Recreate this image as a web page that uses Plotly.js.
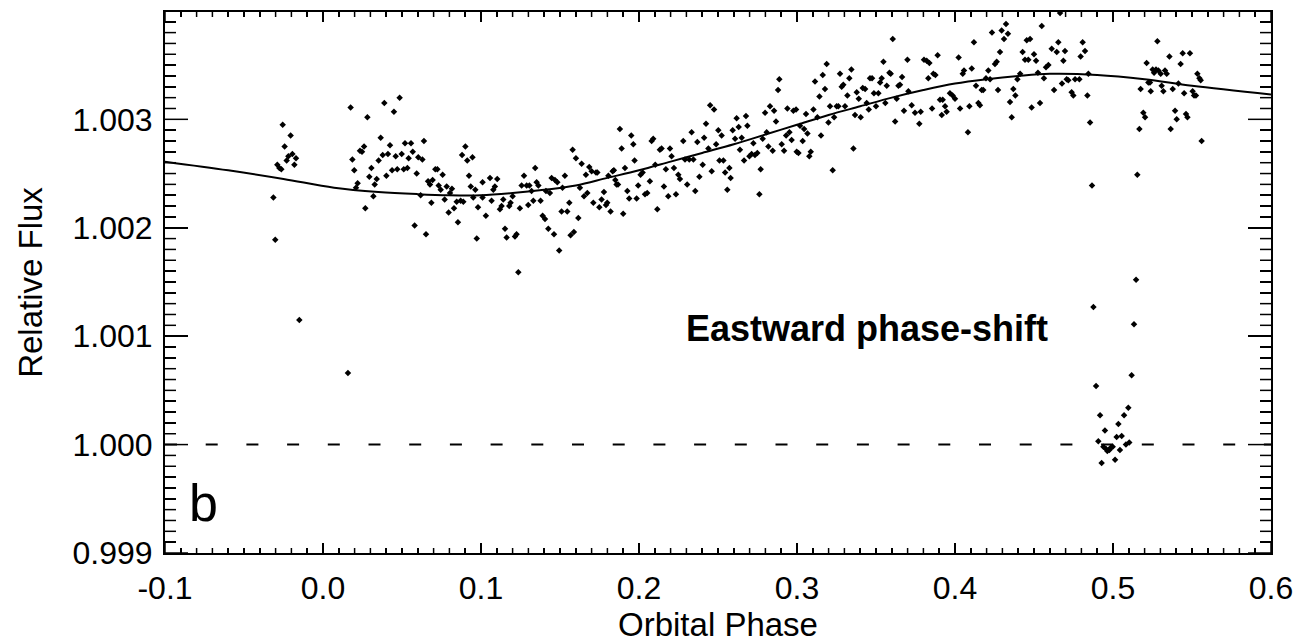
<!DOCTYPE html>
<html>
<head>
<meta charset="utf-8">
<script src="https://cdn.plot.ly/plotly-3.0.1.min.js"></script>
<style>
html,body{margin:0;padding:0;background:#fff;}
#chart{width:1300px;height:643px;}
</style>
</head>
<body>
<div id="chart"></div>
<script>
// Observed phase-folded photometry (orbital phase, relative flux)
const phase = [
-0.0255,-0.0205,-0.0243,-0.0194,-0.0171,-0.0219,-0.0230,-0.0181,-0.0289,-0.0276,-0.0264,-0.0314,-0.0302,-0.0150,0.0158,
0.0175,0.0281,0.0388,0.0449,0.0485,0.0365,0.0260,0.0234,0.0247,0.0186,0.0198,0.0219,0.0209,0.0306,0.0293,0.0340,0.0327,0.0319,0.0268,0.0352,0.0378,0.0411,0.0424,0.0460,0.0498,0.0519,0.0557,0.0568,0.0542,0.0603,0.0629,0.0639,0.0401,0.0437,0.0470,0.0511,0.0534,0.0593,0.0618,0.0580,0.0652,0.0686,0.0665,0.0677,0.0694,0.0711,0.0724,0.0757,0.0732,0.0745,0.0783,0.0816,0.0770,0.0804,0.0795,0.0829,0.0846,0.0871,0.0854,0.0901,0.0880,0.0913,0.0924,0.0935,0.0951,0.0981,0.0973,0.0964,0.0888,
0.0946,0.1010,0.1010,0.1031,0.1057,0.1067,0.1078,0.1088,0.1103,0.1120,0.1130,0.1141,0.1152,0.1162,0.1179,0.1187,0.1200,0.1215,0.1225,0.1236,0.1246,0.1257,0.1272,0.1289,0.1306,0.1320,0.1331,0.1299,0.1343,0.1352,0.1363,0.1377,0.1390,0.1405,0.1426,0.1411,0.1436,0.1447,0.1468,0.1483,0.1462,0.1495,0.1510,0.1516,0.1531,0.1546,0.1559,0.1567,0.1580,0.1588,0.1601,0.1616,0.1626,0.1637,0.1652,0.1664,0.1673,0.1685,0.1700,0.1711,0.1728,0.1736,0.1749,0.1763,0.1778,0.1791,0.1799,0.1806,0.1820,0.1833,0.1850,0.1841,0.1858,0.1867,0.1879,0.1890,0.1900,0.1911,0.1926,0.1938,0.1951,0.1964,0.1972,0.1985,0.1995,0.2010,0.2023,0.2038,0.2052,0.2069,0.2080,0.2090,0.2103,0.2116,0.2132,0.2143,0.2158,0.2170,0.2185,0.2196,0.2206,0.2221,0.2234,0.2249,0.2259,0.2280,0.2291,0.2305,0.2318,0.2333,0.2344,0.2356,0.2369,0.2382,
0.2403,0.2412,0.2424,0.2439,0.2450,0.2475,0.2460,0.2488,0.2502,0.2509,0.2523,0.2534,0.2545,0.2559,0.2572,0.2580,0.2593,0.2608,0.2618,0.2631,0.2639,0.2650,0.2665,0.2677,0.2686,0.2699,0.2713,0.2724,0.2734,0.2749,0.2762,0.2770,0.2783,0.2798,0.2808,0.2819,0.2829,0.2846,0.2855,0.2867,0.2880,0.2888,0.2903,0.2918,0.2931,0.2939,0.2952,0.2966,0.2977,0.2994,0.2998,0.3009,0.3019,0.3036,0.3045,0.3057,0.3066,0.3078,0.3087,0.3104,0.3114,0.3129,0.3142,0.3152,0.3163,0.3177,0.3188,0.3199,0.3209,0.3226,0.3235,0.3251,0.3262,0.3272,0.3283,0.3293,0.3304,0.3319,0.3331,0.3344,0.3357,0.3367,0.3378,0.3391,0.3403,0.3416,0.3431,0.3441,0.3454,0.3462,0.3475,0.3487,0.3500,0.3515,0.3526,0.3536,0.3547,0.3559,0.3568,0.3585,0.3593,0.3606,0.3621,0.3631,0.3642,0.3652,0.3665,0.3677,0.3699,0.3705,
0.3726,0.3747,0.3774,0.3783,0.3804,0.3821,0.3838,0.3831,0.3863,0.3876,0.3890,0.3855,0.3905,0.3922,0.3916,0.3937,0.3947,0.3968,0.3985,0.4000,0.4023,0.4032,0.4049,0.4057,0.4082,0.4091,0.4106,0.4120,0.4133,0.4148,0.4158,0.4169,0.4179,0.4196,0.4211,0.4222,0.4234,0.4253,0.4264,0.4272,0.4285,0.4295,0.4310,0.4323,0.4335,0.4348,0.4359,0.4369,0.4382,0.4395,0.4412,0.4428,0.4443,0.4454,0.4475,0.4464,0.4485,0.4500,0.4513,0.4525,0.4538,0.4549,0.4563,0.4576,0.4591,0.4612,0.4627,0.4644,0.4654,0.4665,0.4686,0.4696,0.4677,0.4707,0.4717,0.4738,0.4749,0.4760,0.4787,0.4795,0.4808,0.4823,0.4838,0.4844,0.4855,0.4867,
0.4876,0.4893,0.4918,0.4907,0.4928,0.4949,0.4939,0.4956,0.4964,0.4977,0.4985,0.4998,0.5013,0.5023,0.5034,0.5044,0.5055,0.5070,0.5082,0.5097,0.5103,0.5118,0.5133,
0.5154,0.5146,0.5167,0.5175,0.5192,0.5203,0.5213,0.5224,0.5234,0.5239,0.5251,0.5260,0.5272,0.5281,0.5287,0.5302,0.5308,0.5319,0.5329,0.5340,0.5357,0.5365,0.5378,0.5393,0.5403,0.5414,0.5428,0.5441,0.5450,0.5462,0.5471,0.5487,0.5504,0.5513,0.5525,0.5534,0.5547,0.5555,0.5561
];
const flux = [
1.00295,1.00285,1.00275,1.00268,1.00264,1.00266,1.00262,1.00258,1.00258,1.00255,1.00254,1.00228,1.00189,1.00115,1.00066,
1.00311,1.00302,1.00315,1.00307,1.00320,1.00283,1.00275,1.00271,1.00270,1.00263,1.00253,1.00241,1.00237,1.00255,1.00247,1.00245,1.00240,1.00229,1.00218,1.00262,1.00267,1.00268,1.00276,1.00266,1.00268,1.00278,1.00278,1.00270,1.00264,1.00265,1.00263,1.00280,1.00248,1.00253,1.00254,1.00254,1.00255,1.00250,1.00230,1.00202,1.00194,1.00223,1.00243,1.00240,1.00244,1.00254,1.00254,1.00249,1.00239,1.00235,1.00238,1.00236,1.00226,1.00232,1.00214,1.00218,1.00224,1.00225,1.00205,1.00275,1.00267,1.00262,1.00248,1.00238,1.00228,1.00219,1.00190,1.00235,1.00224,
1.00265,1.00242,1.00228,1.00211,1.00246,1.00225,1.00235,1.00238,1.00245,1.00217,1.00220,1.00226,1.00199,1.00191,1.00220,1.00223,1.00229,1.00192,1.00194,1.00159,1.00218,1.00239,1.00248,1.00239,1.00239,1.00234,1.00225,1.00221,1.00255,1.00242,1.00239,1.00225,1.00211,1.00208,1.00199,1.00234,1.00232,1.00246,1.00244,1.00242,1.00194,1.00179,1.00215,1.00237,1.00248,1.00215,1.00223,1.00193,1.00272,1.00196,1.00264,1.00209,1.00237,1.00259,1.00229,1.00249,1.00232,1.00256,1.00252,1.00223,1.00251,1.00251,1.00219,1.00226,1.00233,1.00221,1.00223,1.00248,1.00215,1.00252,1.00244,1.00253,1.00240,1.00240,1.00291,1.00273,1.00213,1.00255,1.00234,1.00227,1.00285,1.00277,1.00262,1.00227,1.00239,1.00249,1.00251,1.00231,1.00232,1.00243,1.00280,1.00282,1.00258,1.00217,1.00272,1.00273,1.00238,1.00254,1.00229,1.00273,1.00266,1.00255,1.00231,1.00249,1.00245,1.00280,1.00263,1.00240,1.00263,1.00288,1.00263,1.00234,1.00279,1.00247,
1.00258,1.00283,1.00296,1.00273,1.00313,1.00309,1.00252,1.00277,1.00290,1.00262,1.00285,1.00262,1.00251,1.00235,1.00255,1.00246,1.00290,1.00282,1.00301,1.00293,1.00272,1.00283,1.00262,1.00303,1.00294,1.00266,1.00268,1.00278,1.00267,1.00269,1.00231,1.00254,1.00282,1.00306,1.00288,1.00275,1.00312,1.00271,1.00308,1.00298,1.00327,1.00337,1.00277,1.00271,1.00285,1.00310,1.00288,1.00281,1.00308,1.00309,1.00270,1.00269,1.00294,1.00280,1.00291,1.00305,1.00287,1.00266,1.00270,1.00309,1.00335,1.00302,1.00321,1.00285,1.00341,1.00328,1.00351,1.00297,1.00312,1.00253,1.00302,1.00312,1.00312,1.00342,1.00330,1.00332,1.00312,1.00322,1.00338,1.00346,1.00273,1.00304,1.00325,1.00319,1.00302,1.00329,1.00328,1.00315,1.00309,1.00338,1.00338,1.00324,1.00312,1.00324,1.00334,1.00338,1.00353,1.00315,1.00331,1.00343,1.00342,1.00374,1.00298,1.00319,1.00331,1.00332,1.00339,1.00308,1.00355,1.00326,
1.00313,1.00306,1.00296,1.00307,1.00355,1.00354,1.00352,1.00338,1.00342,1.00341,1.00359,1.00310,1.00318,1.00318,1.00304,1.00312,1.00307,1.00324,1.00322,1.00319,1.00357,1.00310,1.00342,1.00345,1.00288,1.00312,1.00347,1.00371,1.00331,1.00315,1.00313,1.00327,1.00327,1.00338,1.00345,1.00337,1.00380,1.00351,1.00353,1.00327,1.00362,1.00382,1.00374,1.00388,1.00379,1.00316,1.00302,1.00328,1.00322,1.00337,1.00342,1.00362,1.00355,1.00373,1.00374,1.00355,1.00311,1.00360,1.00354,1.00343,1.00315,1.00386,1.00338,1.00348,1.00350,1.00365,1.00327,1.00362,1.00371,1.00398,1.00354,1.00363,1.00333,1.00337,1.00336,1.00325,1.00322,1.00337,1.00337,1.00358,1.00371,1.00363,1.00322,1.00342,1.00297,1.00239,
1.00127,1.00054,1.00027,1.00003,0.99983,1.00013,0.99998,0.99996,0.99994,0.99995,0.99997,0.99998,0.99986,1.00007,1.00019,0.99995,1.00008,1.00027,1.00000,1.00034,1.00002,1.00064,1.00111,
1.00249,1.00152,1.00291,1.00328,1.00306,1.00302,1.00352,1.00334,1.00334,1.00326,1.00346,1.00343,1.00346,1.00372,1.00345,1.00342,1.00331,1.00326,1.00345,1.00342,1.00358,1.00291,1.00328,1.00308,1.00300,1.00333,1.00351,1.00361,1.00324,1.00305,1.00302,1.00361,1.00326,1.00322,1.00322,1.00342,1.00338,1.00336,1.00280
];

// Phase-curve model (solid line)
const modelPhase = [-0.10,-0.06,-0.025,0.007,0.035,0.06,0.08,0.10,0.12,0.14,0.16,0.18,0.20,0.22,0.24,0.26,0.28,0.30,0.32,0.34,0.36,0.38,0.40,0.42,0.44,0.46,0.49,0.52,0.55,0.60];
const modelFlux  = [1.00261,1.00253,1.00245,1.00237,1.00233,1.00231,1.00230,1.00230,1.00232,1.00235,1.00239,1.00246,1.00253,1.00261,1.00269,1.00277,1.00286,1.00295,1.00304,1.00312,1.00320,1.00327,1.00333,1.00337,1.00340,1.00342,1.00341,1.00337,1.00331,1.00323];

// Stellar-only baseline (dashed)
const basePhase = [-0.1, 0.6];
const baseFlux  = [1.000, 1.000];

// Axis / tick settings
const xRange = [-0.1, 0.6];
const yRange = [0.999, 1.00399];
const xTickStep = 0.1;
const xMinorStep = 0.01;
const yTickStep = 0.001;
const yMinorStep = 0.0001;
const xLabelAlias = {"\u22120.1": "-0.1"};

const xTitle = "Orbital Phase";
const yTitle = "Relative Flux";
const panelLabel = "b";
const noteText = "Eastward phase-shift";

const FONT = "'Liberation Sans', Arial, Helvetica, sans-serif";

const W = 1300, H = 643;
const M = {l: 165, r: 29, t: 12, b: 90};

// Inside tick marks on all four sides, built from the axis steps as one line trace
function tickTrace() {
  const plotW = W - M.l - M.r, plotH = H - M.t - M.b;
  const xPerPx = (xRange[1] - xRange[0]) / plotW;
  const yPerPx = (yRange[1] - yRange[0]) / plotH;
  const tx = [], ty = [];
  const nx = Math.round((xRange[1] - xRange[0]) / xMinorStep);
  const xEvery = Math.round(xTickStep / xMinorStep);
  for (let i = 0; i <= nx; i++) {
    const v = +(xRange[0] + i * xMinorStep).toFixed(4);
    const len = (i % xEvery === 0 ? 10 : 5) * yPerPx;
    tx.push(v, v, null, v, v, null);
    ty.push(yRange[0], yRange[0] + len, null, yRange[1], yRange[1] - len, null);
  }
  const ny = Math.floor((yRange[1] - yRange[0]) / yMinorStep + 1e-6);
  const yEvery = Math.round(yTickStep / yMinorStep);
  for (let j = 0; j <= ny; j++) {
    const v = +(yRange[0] + j * yMinorStep).toFixed(5);
    const len = (j % yEvery === 0 ? 23 : 11) * xPerPx;
    tx.push(xRange[0], xRange[0] + len, null, xRange[1], xRange[1] - len, null);
    ty.push(v, v, null, v, v, null);
  }
  return {x: tx, y: ty, type: "scatter", mode: "lines", connectgaps: false, cliponaxis: false,
          line: {color: "#000", width: 1.5}, hoverinfo: "skip"};
}

const traces = [
  {x: basePhase, y: baseFlux, type: "scatter", mode: "lines",
   line: {color: "#000", width: 2, dash: "12px,28.7px"}, hoverinfo: "skip"},
  {x: modelPhase, y: modelFlux, type: "scatter", mode: "lines",
   line: {color: "#000", width: 2, shape: "spline", smoothing: 1}, hoverinfo: "skip"},
  {x: phase, y: flux, type: "scatter", mode: "markers",
   marker: {symbol: "diamond", size: 5, color: "#000", line: {width: 0}}, hoverinfo: "skip"},
  tickTrace()
];

const layout = {
  width: W, height: H,
  margin: M,
  showlegend: false, hovermode: false,
  font: {family: FONT, color: "#000", size: 32},
  xaxis: {
    range: xRange, tickmode: "linear", tick0: -0.1, dtick: xTickStep, tickformat: ".1f",
    labelalias: xLabelAlias,
    ticks: "inside", ticklen: 10, tickwidth: 1.5, tickcolor: "#000",
    showline: true, linewidth: 2, linecolor: "#000", mirror: "allticks",
    showgrid: false, zeroline: false,
    tickfont: {family: FONT, size: 32, color: "#000"},
    ticklabelstandoff: 6,
    minor: {dtick: xMinorStep, ticks: "inside", ticklen: 5, tickwidth: 1.5, tickcolor: "#000"},
    title: {text: xTitle, font: {family: FONT, size: 33, color: "#000"}, standoff: 4}
  },
  yaxis: {
    range: yRange, tickmode: "linear", tick0: 0.999, dtick: yTickStep, tickformat: ".3f",
    ticks: "inside", ticklen: 23, tickwidth: 1.5, tickcolor: "#000",
    showline: true, linewidth: 2, linecolor: "#000", mirror: "allticks",
    showgrid: false, zeroline: false,
    tickfont: {family: FONT, size: 32, color: "#000"},
    ticklabelstandoff: 4,
    minor: {dtick: yMinorStep, ticks: "inside", ticklen: 11, tickwidth: 1.5, tickcolor: "#000"},
    title: {text: yTitle, font: {family: FONT, size: 33, color: "#000"}, standoff: 20}
  },
  annotations: [
    {xref: "paper", yref: "paper", x: 0.0195, y: 0.035, xanchor: "left", yanchor: "bottom",
     text: panelLabel, showarrow: false, font: {family: FONT, size: 52, color: "#000"}},
    {xref: "paper", yref: "paper", x: 0.6345, y: 0.415, xanchor: "center", yanchor: "middle",
     text: "<b>" + noteText + "</b>", showarrow: false, font: {family: FONT, size: 36, color: "#000"}}
  ]
};

Plotly.newPlot("chart", traces, layout, {staticPlot: true, displayModeBar: false});
</script>
</body>
</html>
